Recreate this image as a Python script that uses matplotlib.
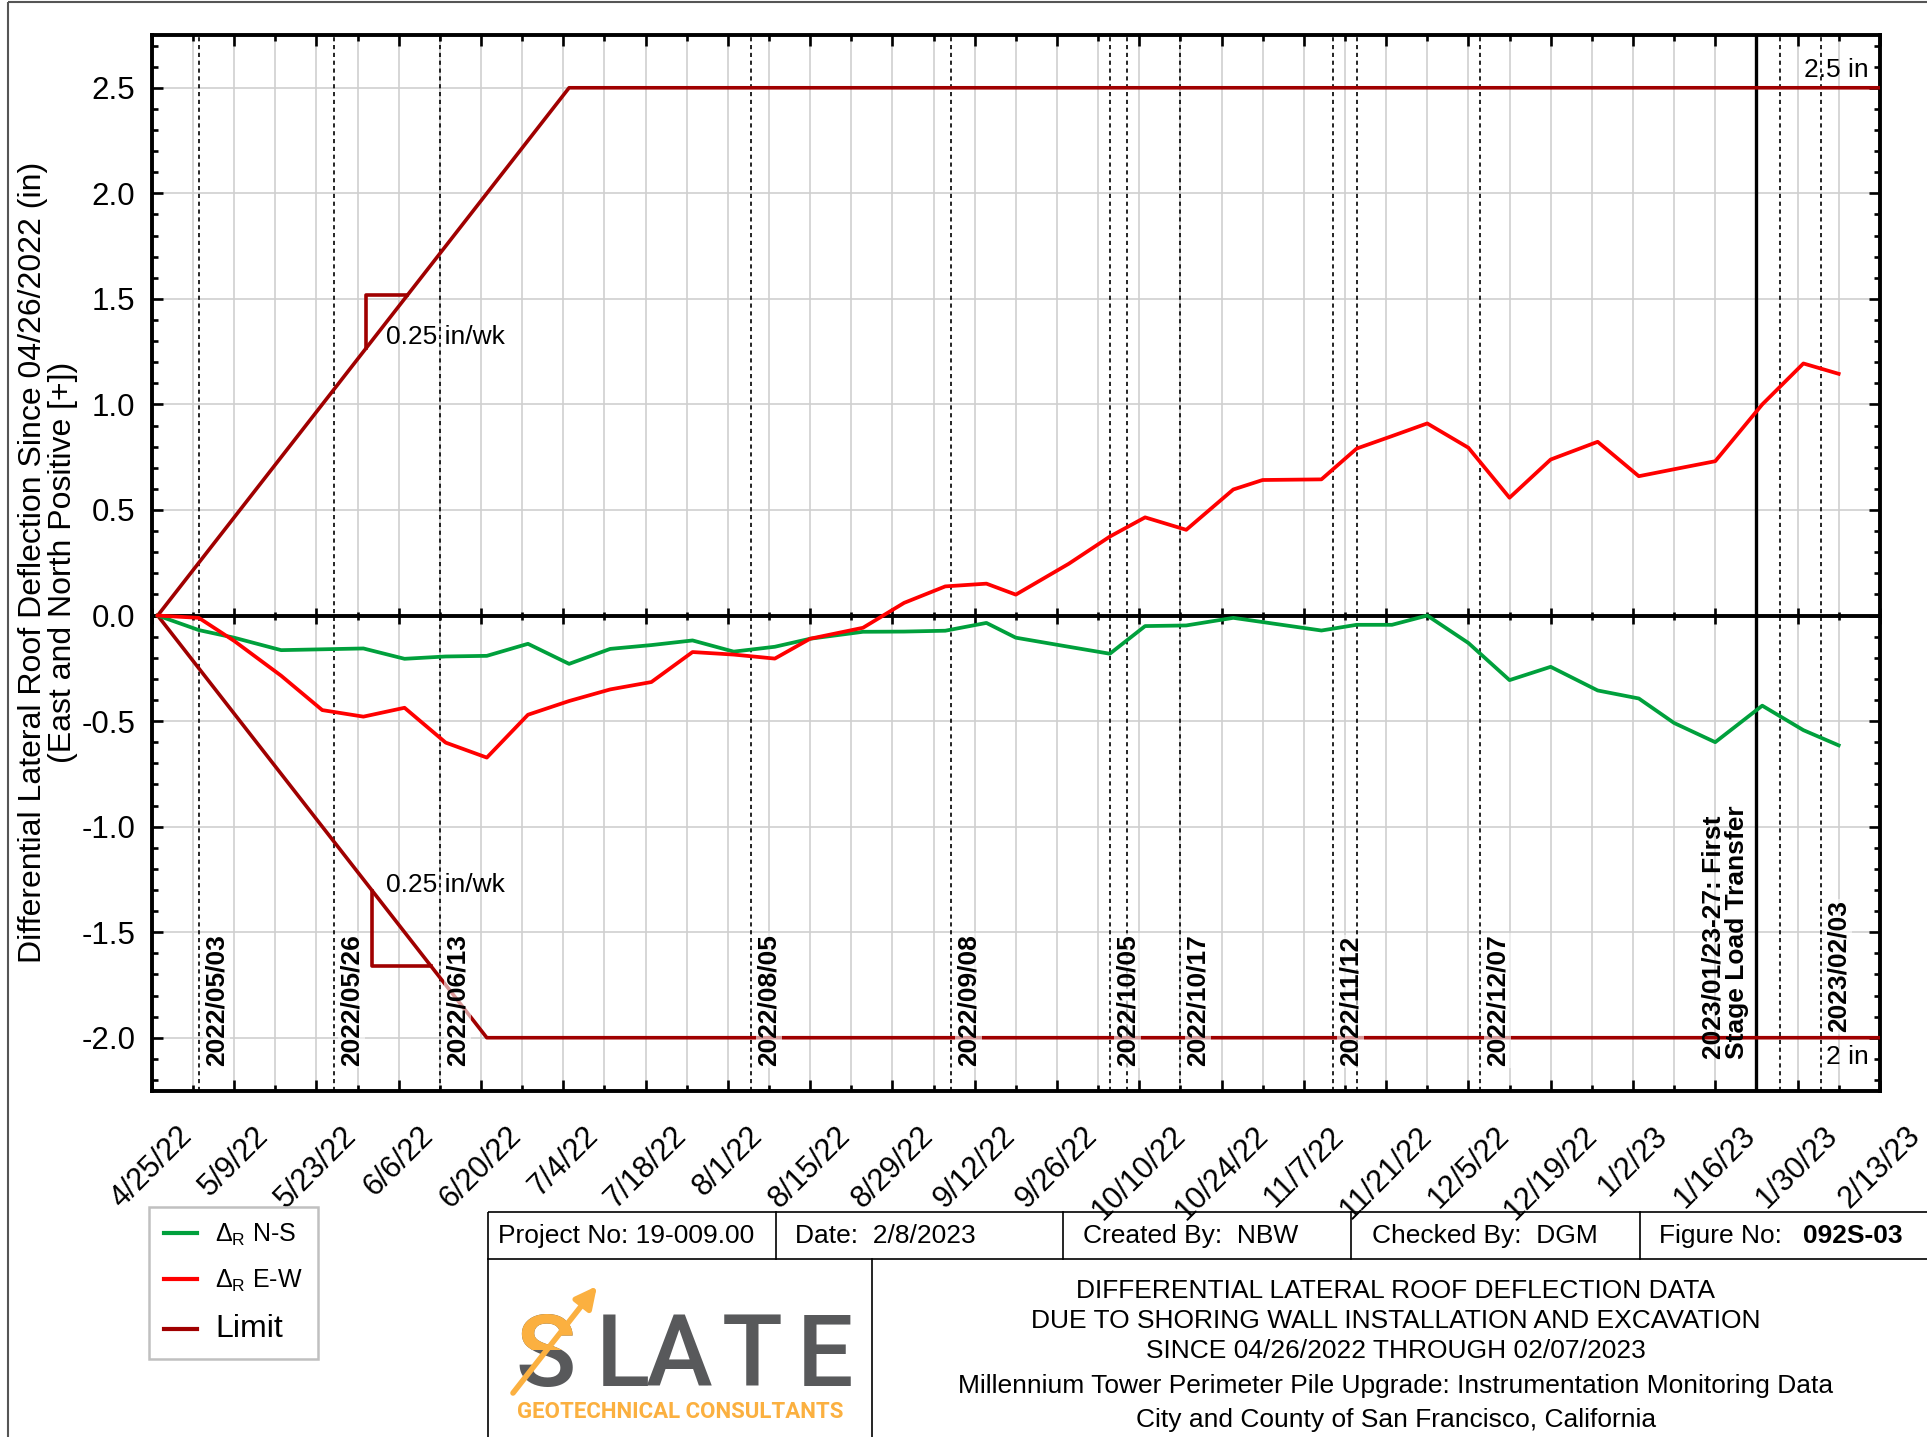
import matplotlib
matplotlib.use("Agg")
import matplotlib.pyplot as plt
import matplotlib.dates as mdates
import numpy as np
import pandas as pd
from matplotlib.ticker import FixedLocator, MultipleLocator, FuncFormatter, NullFormatter
from matplotlib.patches import Rectangle
from matplotlib.transforms import Bbox, TransformedBbox

plt.rcParams['font.family'] = ['Liberation Sans', 'DejaVu Sans']
plt.rcParams['mathtext.fontset'] = 'custom'
plt.rcParams['mathtext.rm'] = 'Liberation Sans'
plt.rcParams['mathtext.it'] = 'Liberation Sans:italic'
plt.rcParams['mathtext.bf'] = 'Liberation Sans:bold'
plt.rcParams['axes.unicode_minus'] = False

# ---------------- data ----------------
survey_dates = ['2022-04-26', '2022-05-03', '2022-05-09', '2022-05-17', '2022-05-24',
                '2022-05-31', '2022-06-07', '2022-06-14', '2022-06-21', '2022-06-28',
                '2022-07-05', '2022-07-12', '2022-07-19', '2022-07-26', '2022-08-02',
                '2022-08-09', '2022-08-15', '2022-08-24', '2022-08-31', '2022-09-07',
                '2022-09-14', '2022-09-19', '2022-09-28', '2022-10-05', '2022-10-11',
                '2022-10-18', '2022-10-26', '2022-10-31', '2022-11-10', '2022-11-16',
                '2022-11-22', '2022-11-28', '2022-12-05', '2022-12-12', '2022-12-19',
                '2022-12-27', '2023-01-03', '2023-01-09', '2023-01-16', '2023-01-24',
                '2023-01-31', '2023-02-06']
ns_values = [0.0, -0.069, -0.105, -0.164, -0.160, -0.156, -0.205, -0.194, -0.191, -0.134,
             -0.229, -0.158, -0.140, -0.118, -0.171, -0.148, -0.110, -0.077, -0.076, -0.072,
             -0.035, -0.105, -0.148, -0.181, -0.050, -0.047, -0.011, -0.031, -0.071, -0.044,
             -0.044, 0.000, -0.130, -0.306, -0.243, -0.355, -0.393, -0.509, -0.600, -0.427,
             -0.543, -0.615]
ew_values = [0.0, -0.011, -0.120, -0.285, -0.448, -0.479, -0.437, -0.602, -0.673, -0.470,
             -0.405, -0.350, -0.315, -0.173, -0.185, -0.204, -0.110, -0.058, 0.060, 0.138,
             0.151, 0.099, 0.245, 0.374, 0.465, 0.406, 0.597, 0.642, 0.645, 0.791,
             0.850, 0.910, 0.795, 0.558, 0.739, 0.823, 0.660, 0.693, 0.731, 1.000,
             1.194, 1.145]

limit_upper_dates = ['2022-04-26', '2022-07-05', '2023-02-13']
limit_upper_values = [0.0, 2.5, 2.5]
limit_lower_dates = ['2022-04-26', '2022-06-21', '2023-02-13']
limit_lower_values = [0.0, -2.0, -2.0]

event_dates = ['2022-05-03', '2022-05-26', '2022-06-13', '2022-08-05', '2022-09-08',
               '2022-10-05', '2022-10-08', '2022-10-17', '2022-11-12', '2022-11-16',
               '2022-12-07', '2023-01-27', '2023-02-03']
event_labels = ['2022/05/03', '2022/05/26', '2022/06/13', '2022/08/05', '2022/09/08',
                '2022/10/05', '', '2022/10/17', '2022/11/12', '',
                '2022/12/07', '', '2023/02/03']
event_label_base = [-2.135] * 12 + [-1.975]
milestone_date = '2023-01-23'
milestone_label = '2023/01/23-27: First\nStage Load Transfer'

slope_upper = ('2022-05-31 12:00', 7, 0.25)    # start, run (days), rise
slope_lower = ('2022-06-01 12:00', 10, -0.357)

x_start, x_end = '2022-04-25', '2023-02-13'
y_min, y_max = -2.25, 2.75

legend_labels = [r'$\Delta_\mathrm{R}$ N-S', r'$\Delta_\mathrm{R}$ E-W', 'Limit']

header_cells = ['Project No: 19-009.00', 'Date:  2/8/2023', 'Created By:  NBW',
                'Checked By:  DGM', 'Figure No:']
figure_no = '092S-03'
title_lines = ['DIFFERENTIAL LATERAL ROOF DEFLECTION DATA',
               'DUE TO SHORING WALL INSTALLATION AND EXCAVATION',
               'SINCE 04/26/2022 THROUGH 02/07/2023',
               'Millennium Tower Perimeter Pile Upgrade: Instrumentation Monitoring Data',
               'City and County of San Francisco, California']

# ---------------- helpers ----------------
def dn(s):
    return mdates.date2num(pd.to_datetime(s).to_pydatetime()) if isinstance(s, str) \
        else mdates.date2num([t.to_pydatetime() for t in pd.to_datetime(s)])

GREEN = '#00a03c'
RED = '#ff0000'
LIMIT = '#a00000'
GRID = '#cfcfcf'
ORANGE = '#fbb040'
GRAY = '#58595b'
LW_DATA = 2.7
LW_SPINE = 2.8

W, H = 1927, 1437
fig = plt.figure(figsize=(W / 100, H / 100), dpi=100)
ax_l, ax_r, ax_t, ax_b = 151.8, 1879.8, 35.0, 1090.5
ax = fig.add_axes([ax_l / W, 1 - ax_b / H, (ax_r - ax_l) / W, (ax_b - ax_t) / H])

x0, x1 = dn(x_start), dn(x_end)
ax.set_xlim(x0, x1)
ax.set_ylim(y_min, y_max)

major_x = dn(list(pd.date_range(x_start, x_end, freq='14D').strftime('%Y-%m-%d')))
minor_x = dn(list(pd.date_range(x_start, x_end, freq='7D').strftime('%Y-%m-%d')))


def date_fmt(v, pos=None):
    d = mdates.num2date(v)
    return f"{d.month}/{d.day}/{d.year % 100}"


ax.xaxis.set_major_locator(FixedLocator(major_x))
ax.xaxis.set_minor_locator(FixedLocator(minor_x))
ax.xaxis.set_major_formatter(FuncFormatter(date_fmt))
ax.yaxis.set_major_locator(MultipleLocator(0.5))
ax.yaxis.set_minor_locator(MultipleLocator(0.1))
ax.yaxis.set_major_formatter(FuncFormatter(lambda v, p: f"{v:.1f}"))

ax.grid(True, which='both', axis='x', color=GRID, lw=1.2, zorder=0)
ax.grid(True, which='major', axis='y', color=GRID, lw=1.2, zorder=0)

ax.tick_params(which='both', direction='in', top=True, right=True, width=1.9, colors='black')
ax.tick_params(which='major', length=8)
ax.tick_params(which='minor', length=4)
ax.tick_params(axis='x', which='major', labelsize=22, labelrotation=45, pad=22)
ax.tick_params(axis='y', which='major', labelsize=22.5, pad=12)
for lab in ax.get_xticklabels():
    lab.set_ha('center')
for sp in ax.spines.values():
    sp.set_linewidth(LW_SPINE)

# zero axis with inout ticks
zero_loc = (0 - y_min) / (y_max - y_min)
sec = ax.secondary_xaxis(zero_loc)
sec.xaxis.set_major_locator(FixedLocator(major_x))
sec.xaxis.set_minor_locator(FixedLocator(minor_x))
sec.xaxis.set_major_formatter(NullFormatter())
sec.tick_params(which='both', direction='inout', width=1.9, labelbottom=False, labeltop=False)
sec.tick_params(which='major', length=11)
sec.tick_params(which='minor', length=6)
for sp in sec.spines.values():
    sp.set_linewidth(LW_SPINE)
sec.set_zorder(1.8)

# event lines
for d, lab, yb in zip(event_dates, event_labels, event_label_base):
    xd = dn(d)
    ax.axvline(xd, color='black', lw=1.2, linestyle=(0, (2.5, 2.2)), zorder=1.6)
    if lab:
        ax.annotate(lab, xy=(xd, yb), xytext=(4, 0), textcoords='offset points',
                    rotation=90, ha='left', va='bottom', fontsize=19, fontweight='bold',
                    zorder=5,
                    bbox=dict(boxstyle='square,pad=0.05', fc='white', ec='none', alpha=0.6))
xm = dn(milestone_date)
ax.axvline(xm, color='black', lw=2.4, zorder=1.7)
ax.annotate(milestone_label, xy=(xm, -2.10), xytext=(-5, 0), textcoords='offset points',
            rotation=90, ha='right', va='bottom', fontsize=19, fontweight='bold',
            linespacing=1.0, multialignment='left', zorder=5)

# data lines
ln_ns, = ax.plot(dn(survey_dates), ns_values, color=GREEN, lw=LW_DATA, zorder=4, label=legend_labels[0])
ln_ew, = ax.plot(dn(survey_dates), ew_values, color=RED, lw=LW_DATA, zorder=4, label=legend_labels[1])
lu_x, ll_x = dn(limit_upper_dates), dn(limit_lower_dates)
ln_lim, = ax.plot(lu_x, limit_upper_values, color=LIMIT, lw=2.6, zorder=3.5, label=legend_labels[2])
ax.plot(ll_x, limit_lower_values, color=LIMIT, lw=2.6, zorder=3.5)

# slope triangles derived from the limit line
for (start, run, rise), lx, ly in [(slope_upper, lu_x, limit_upper_values),
                                     (slope_lower, ll_x, limit_lower_values)]:
    xs = dn(start)
    ys = np.interp(xs, lx, ly)
    ax.plot([xs, xs, xs + run], [ys, ys + rise, ys + rise], color=LIMIT, lw=2.6, zorder=3.5)

ax.text(dn('2022-06-03 20:00'), 1.32, '0.25 in/wk', fontsize=19, ha='left', va='center', zorder=5)
ax.text(dn('2022-06-03 20:00'), -1.275, '0.25 in/wk', fontsize=19, ha='left', va='center', zorder=5)
ax.annotate('2.5 in', xy=(x1, 2.5), xytext=(-8, 4), textcoords='offset points',
            ha='right', va='bottom', fontsize=19, zorder=5)
ax.annotate('2 in', xy=(x1, -2.0), xytext=(-8, -5), textcoords='offset points',
            ha='right', va='top', fontsize=19, zorder=5)

ax.set_ylabel('Differential Lateral Roof Deflection Since 04/26/2022 (in)\n(East and North Positive [+])',
              fontsize=23, linespacing=1.0, multialignment='center')
ax.yaxis.set_label_coords((78 - ax_l) / (ax_r - ax_l), 0.5)

# legend
leg = ax.legend(handles=[ln_ns, ln_ew, ln_lim], loc='upper left',
                bbox_to_anchor=(149 / W, 1 - 1207 / H), bbox_transform=fig.transFigure,
                borderaxespad=0, fontsize=18, frameon=True, fancybox=False,
                edgecolor='#c0c0c0', framealpha=1, handlelength=1.3, handletextpad=0.75,
                labelspacing=0.8, borderpad=0.6)
leg.get_frame().set_linewidth(1.8)
leg.get_texts()[2].set_fontsize(23)
for h in leg.legend_handles:
    h.set_linewidth(3)

# ---------------- overlay: frame, title block, logo ----------------
ov = fig.add_axes([0, 0, 1, 1], zorder=-5)
ov.set_xlim(0, W)
ov.set_ylim(H, 0)
ov.axis('off')
ov.add_patch(Rectangle((8, 2), W + 20, H + 20, fill=False, ec='#555555', lw=1.5))

tb_l, tb_t, tb_hb, tb_r, logo_r = 488, 1211.7, 1259.3, W + 5, 871.5
kw = dict(color='black', lw=1.2)
ov.add_patch(Rectangle((tb_l, tb_t), tb_r - tb_l, H + 10 - tb_t, fill=False, ec='black', lw=1.2))
ov.plot([tb_l, tb_r], [tb_hb, tb_hb], **kw)
for xv in [776, 1063, 1351, 1640]:
    ov.plot([xv, xv], [tb_t, tb_hb], **kw)
ov.plot([logo_r, logo_r], [tb_hb, H + 5], **kw)

for txt, xv in zip(header_cells, [498, 795, 1083, 1371.5, 1659]):
    ov.text(xv, 1236, txt, fontsize=19, ha='left', va='center')
ov.text(1803.5, 1236, figure_no, fontsize=19, ha='left', va='center', fontweight='bold')

for txt, yv in zip(title_lines, [1291.5, 1321.5, 1351.5, 1385.5, 1420]):
    ov.text(1396, yv, txt, fontsize=19, ha='center', va='center')

# logo
LOGO_FONT = ['Roboto', 'DejaVu Sans']
for ch, xv in zip('LATE', [596, 645, 722, 797]):
    ov.text(xv, 1386, ch, fontsize=72, fontfamily=LOGO_FONT, fontweight='medium',
            color=GRAY, ha='left', va='baseline')
s_gray = ov.text(515, 1386, 'S', fontsize=72, fontfamily=LOGO_FONT,
                 fontweight='medium', color=GRAY, ha='left', va='baseline')
s_or = ov.text(515, 1386, 'S', fontsize=72, fontfamily=LOGO_FONT,
               fontweight='medium', color=ORANGE, ha='left', va='baseline')
s_or.set_clip_on(True)
s_or.set_clip_box(TransformedBbox(Bbox([[500, 1300], [600, 1350]]), ov.transData))
ov.annotate('', xy=(597, 1286), xytext=(513, 1393),
            arrowprops=dict(arrowstyle='-|>', color=ORANGE, lw=4, mutation_scale=32,
                            shrinkA=0, shrinkB=0))
ov.text(680, 1412, 'GEOTECHNICAL CONSULTANTS', fontsize=16,
        fontfamily=LOGO_FONT, fontweight='bold', color=ORANGE,
        ha='center', va='center')

fig.savefig('out.png', dpi=100)
